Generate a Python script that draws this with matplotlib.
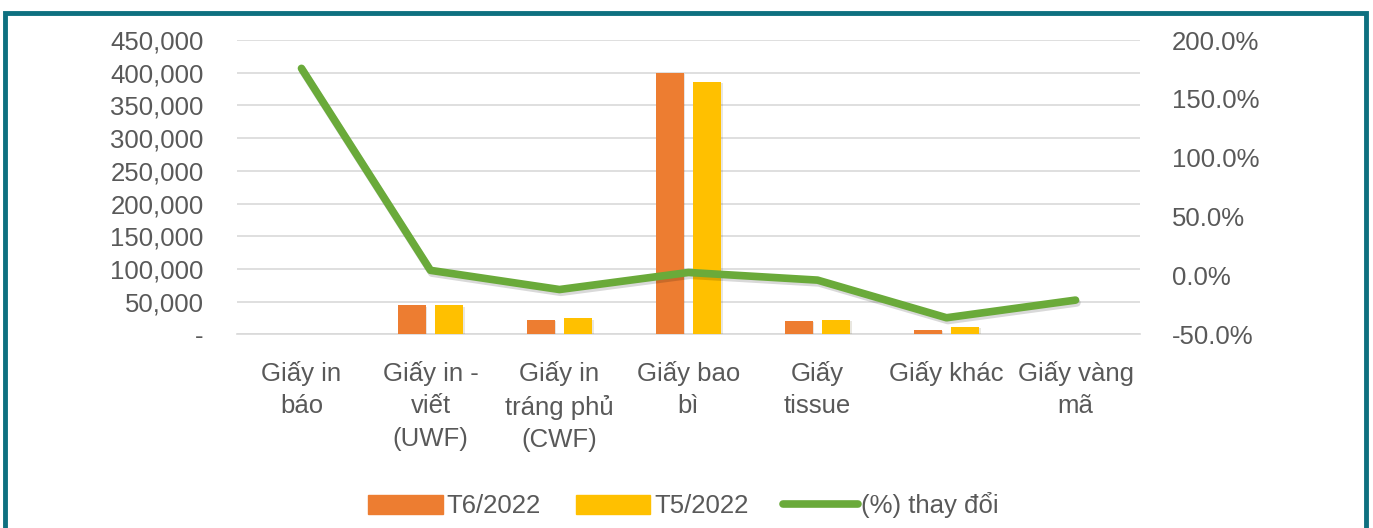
import matplotlib.pyplot as plt
import matplotlib.patheffects as pe
from matplotlib.patches import Rectangle, Patch
from matplotlib.lines import Line2D
from matplotlib.ticker import FuncFormatter
import numpy as np

categories = ['Giấy in\nbáo', 'Giấy in -\nviết\n(UWF)', 'Giấy in\ntráng phủ\n(CWF)',
              'Giấy bao\nbì', 'Giấy\ntissue', 'Giấy khác', 'Giấy vàng\nmã']
t6_2022 = [300, 44500, 22000, 400000, 20300, 7000, 400]
t5_2022 = [200, 44000, 24500, 386000, 22000, 11200, 500]
pct_change = [176, 4.3, -12, 2.5, -4, -36, -21]

plt.rcParams['font.family'] = ['Liberation Sans', 'DejaVu Sans']
text_color = '#595959'
fs = 18.5

fig = plt.figure(figsize=(13.73, 5.28), dpi=100)
ax = fig.add_axes([0.1726, 0.367, 0.6577, 0.557])
ax2 = ax.twinx()

x = np.arange(len(categories))
w = 0.22
shadow = [pe.SimplePatchShadow(offset=(1, -1), alpha=0.12), pe.Normal()]
ax.bar(x - 0.035 - w / 2, t6_2022, w, color='#ED7D31', zorder=3, path_effects=shadow)
ax.bar(x + 0.035 + w / 2, t5_2022, w, color='#FFC000', zorder=3, path_effects=shadow)

ax.set_ylim(0, 450000)
ax.set_yticks(np.arange(0, 450001, 50000))
ax.yaxis.set_major_formatter(FuncFormatter(lambda v, p: '-' if v == 0 else f'{int(v):,}'))
ax.grid(axis='y', color='#d9d9d9', linewidth=1.2, zorder=0)
ax.set_xlim(-0.5, len(categories) - 0.5)
ax.set_xticks(x)
ax.set_xticklabels(categories, linespacing=1.45)

ax2.plot(x, pct_change, color='#6AAA3A', linewidth=5.5, solid_capstyle='round',
         solid_joinstyle='round', zorder=4,
         path_effects=[pe.SimpleLineShadow(offset=(1, -2), alpha=0.15), pe.Normal()])
ax2.set_ylim(-50, 200)
ax2.set_yticks(np.arange(-50, 201, 50))
ax2.yaxis.set_major_formatter(FuncFormatter(lambda v, p: f'{v:.1f}%'))

for a in (ax, ax2):
    for s in a.spines.values():
        s.set_visible(False)
    a.tick_params(length=0, labelsize=fs, colors=text_color)
ax.tick_params(axis='x', pad=19)
ax.tick_params(axis='y', pad=24)
ax2.tick_params(axis='y', pad=23)
ax.spines['bottom'].set_visible(True)
ax.spines['bottom'].set_color('#d9d9d9')
ax.spines['bottom'].set_linewidth(1.2)

handles = [Patch(color='#ED7D31'), Patch(color='#FFC000'),
           Line2D([0], [0], color='#6AAA3A', linewidth=5.5, solid_capstyle='round')]
fig.legend(handles, ['T6/2022', 'T5/2022', '(%) thay đổi'], loc='center',
           bbox_to_anchor=(0.498, 0.043), ncol=3, frameon=False, fontsize=fs,
           labelcolor=text_color, handlelength=2.9, handleheight=0.75,
           handletextpad=0.15, columnspacing=1.35)

fig.patches.append(Rectangle((0.004, -0.1), 0.991, 1.075, transform=fig.transFigure,
                             fill=False, edgecolor='#0E7080', linewidth=3.5))

fig.savefig('out.png', dpi=100)
